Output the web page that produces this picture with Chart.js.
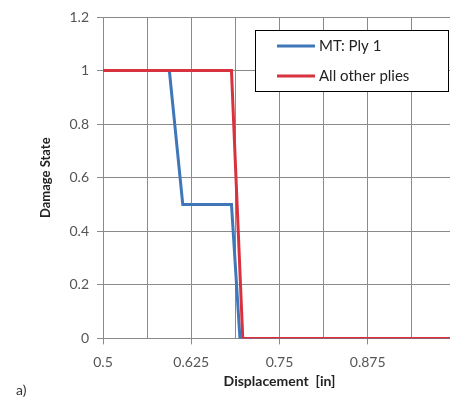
<!DOCTYPE html>
<html>
<head>
<meta charset="utf-8">
<script src="https://cdn.jsdelivr.net/npm/chart.js@4/dist/chart.umd.min.js"></script>
<style>
html,body{margin:0;padding:0;background:#fff;overflow:hidden;}
#wrap{position:relative;width:450px;height:400px;overflow:hidden;}
#c{position:absolute;left:0;top:0;}
#lab{position:absolute;left:16px;top:381px;font:14px Lato, sans-serif;color:#333;}
</style>
</head>
<body>
<div id="wrap">
<canvas id="c" width="470" height="400"></canvas>
<div id="lab">a)</div>
</div>
<script>
const seriesNames = ["MT: Ply 1", "All other plies"];
const mtX = [0.5, 0.594, 0.613, 0.682, 0.694, 1.0];
const mtY = [1, 1, 0.5, 0.5, 0, 0];
const otherX = [0.5, 0.682, 0.698, 1.0];
const otherY = [1, 1, 0, 0];
const xTickLabels = ["0.5", "0.625", "0.75", "0.875", "1"];
const yTickLabels = ["0", "0.2", "0.4", "0.6", "0.8", "1", "1.2"];

const colors = ["#3f77b8", "#d8323e"];
const FONT = "Lato, 'Open Sans', sans-serif";

function pts(xs, ys){ return xs.map((x,i)=>({x:x, y:ys[i]})); }

const legendBox = {
  id: 'legendBox',
  afterDraw(chart){
    const ctx = chart.ctx;
    const x0 = 255.5, y0 = 30.5, w = 193, h = 61;
    ctx.save();
    ctx.fillStyle = '#fff';
    ctx.fillRect(x0, y0, w, h);
    ctx.strokeStyle = '#000';
    ctx.lineWidth = 1;
    ctx.strokeRect(x0, y0, w, h);
    ctx.font = "15px " + FONT;
    ctx.textBaseline = 'middle';
    const rows = [46, 76];
    chart.data.datasets.forEach((ds, i) => {
      const y = rows[i];
      ctx.strokeStyle = ds.borderColor;
      ctx.lineWidth = 3;
      ctx.beginPath();
      ctx.moveTo(277, y); ctx.lineTo(315, y);
      ctx.stroke();
      ctx.fillStyle = '#222';
      ctx.fillText(ds.label, 319, y);
    });
    ctx.restore();
  }
};

new Chart(document.getElementById('c'), {
  type: 'line',
  data: {
    datasets: [
      { label: seriesNames[0], data: pts(mtX, mtY), borderColor: colors[0], backgroundColor: colors[0], borderWidth: 3, pointRadius: 0, tension: 0, order: 2 },
      { label: seriesNames[1], data: pts(otherX, otherY), borderColor: colors[1], backgroundColor: colors[1], borderWidth: 3, pointRadius: 0, tension: 0, order: 1 }
    ]
  },
  options: {
    responsive: false,
    animation: false,
    events: [],
    layout: { padding: { left: 38, top: 17, right: 0, bottom: 10 } },
    plugins: { legend: { display: false }, tooltip: { enabled: false } },
    scales: {
      x: {
        type: 'linear', min: 0.5, max: 1.0,
        afterBuildTicks(scale){
          const t = [];
          for (let i = 0; i <= 8; i++) t.push({ value: 0.5 + i * 0.0625 });
          scale.ticks = t;
        },
        ticks: {
          autoSkip: false, maxRotation: 0, padding: 10,
          color: '#555', font: { family: FONT, size: 14 },
          callback(v, i){ return i % 2 === 0 ? xTickLabels[i/2] : ''; }
        },
        grid: { color: '#8a8a8a', lineWidth: 1, tickLength: 6,
          tickColor: (c) => (c.index % 2 === 0 ? '#8a8a8a' : 'rgba(0,0,0,0)') },
        border: { color: '#8a8a8a' },
        title: { display: true, text: 'Displacement  [in]', color: '#222',
          font: { family: FONT, size: 14, weight: 'bold' }, padding: { top: -8, bottom: 0 } }
      },
      y: {
        type: 'linear', min: 0, max: 1.2,
        afterBuildTicks(scale){
          scale.ticks = yTickLabels.map(s => ({ value: parseFloat(s) }));
        },
        afterFit(scale){ scale.width = 65; },
        ticks: {
          padding: 8, color: '#555', font: { family: FONT, size: 14 },
          callback(v, i){ return yTickLabels[i]; }
        },
        grid: { color: '#8a8a8a', lineWidth: 1, tickLength: 6 },
        border: { color: '#8a8a8a' },
        title: { display: true, text: 'Damage State', color: '#222',
          font: { family: FONT, size: 13, weight: 'bold' }, padding: 0 }
      }
    }
  },
  plugins: [legendBox]
});
</script>
</body>
</html>
